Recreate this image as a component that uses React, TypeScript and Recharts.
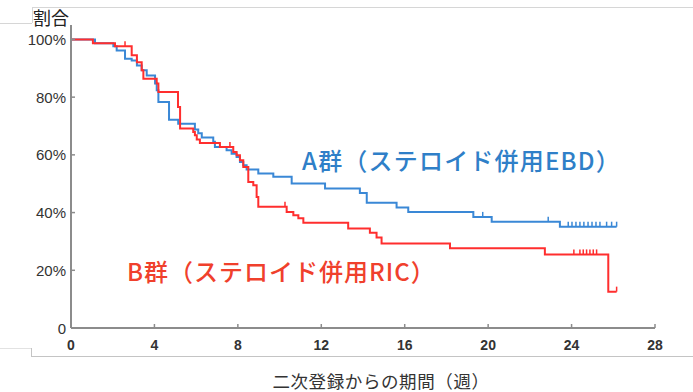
import React from 'react';
import { ComposedChart, Line, XAxis, YAxis } from 'recharts';

const weekTicks = [0, 4, 8, 12, 16, 20, 24, 28];
const percentTicks = [0, 20, 40, 60, 80, 100];

// A群（ステロイド併用EBD）: times (weeks) where the curve drops, and the value after the drop (%)
const groupATimes = [0, 1.15, 2.03, 2.19, 2.59, 2.91, 3.16, 3.39, 3.63, 4.03, 4.11, 4.19, 4.7, 5.14, 5.94, 6.1, 6.27, 6.82, 6.9, 7.46, 7.7, 7.94, 8.1, 8.26, 8.42, 8.98, 9.7, 10.58, 12.18, 13.85, 14.18, 15.61, 16.17, 19.29, 20.17, 23.44];
const groupAValues = [100, 98.7, 97.6, 96.2, 93.3, 92.7, 91.0, 89.3, 87.5, 84.7, 82.4, 78.3, 72.2, 70.8, 68.8, 67.5, 66.0, 64.5, 62.7, 61.6, 60.4, 59.3, 57.5, 56.4, 54.9, 53.5, 52.4, 50.1, 48.3, 46.8, 43.4, 41.8, 40.2, 38.5, 36.8, 35.1];
const groupACensored = [19.74, 22.88, 23.84, 24.02, 24.21, 24.4, 24.59, 24.79, 24.98, 25.17, 25.36, 25.68, 25.92, 26.16];

// B群（ステロイド併用RIC）
const groupBTimes = [0, 1.05, 2.11, 2.91, 3.16, 3.39, 3.47, 4.11, 4.19, 5.13, 5.23, 5.86, 5.94, 6.03, 6.18, 7.14, 7.78, 7.94, 8.1, 8.26, 8.5, 8.74, 8.9, 8.98, 10.34, 10.66, 10.9, 11.14, 13.29, 14.33, 14.65, 14.89, 18.17, 22.72, 25.76];
const groupBValues = [100, 98.7, 97.6, 94.5, 92.1, 89.3, 86.4, 84.7, 81.8, 76.6, 69.1, 67.9, 66.8, 65.3, 64.1, 62.7, 61.0, 59.9, 58.1, 55.8, 50.6, 49.5, 45.4, 42.0, 40.2, 39.1, 38.0, 36.5, 34.5, 33.0, 31.4, 29.3, 27.6, 25.5, 12.6];
const groupBCensored = [2.59, 7.62, 10.26, 24.11, 24.4, 24.56, 24.72, 24.88, 25.04, 25.2, 26.16];

const BLUE = '#3a88d6';
const RED = '#ff2e2e';
const AXIS = '#8c8c8c';

type Row = { t: number; v: number; c: boolean };

// merge drops and censor marks into one table; a censor keeps the current step value
const buildRows = (times: number[], values: number[], censored: number[]): Row[] => {
  const rows: Row[] = times.map((t, i) => ({ t, v: values[i], c: false }));
  censored.forEach((t) => {
    let v = values[0];
    times.forEach((tt, i) => {
      if (tt <= t) v = values[i];
    });
    rows.push({ t, v, c: true });
  });
  return rows.sort((a, b) => a.t - b.t);
};

const rowsA = buildRows(groupATimes, groupAValues, groupACensored);
const rowsB = buildRows(groupBTimes, groupBValues, groupBCensored);

const censorDot = (color: string) => (props: any) => {
  const { cx, cy, payload, index } = props;
  if (!payload || !payload.c) return <g key={`n-${index}`} />;
  return <line key={`c-${index}`} x1={cx} x2={cx} y1={cy} y2={cy - 5} stroke={color} strokeWidth={1.5} />;
};

const XTick = (props: any) => {
  const { x, y, payload } = props;
  return (
    <g>
      <line x1={x} x2={x} y1={y - 17} y2={y - 21} stroke={AXIS} strokeWidth={1.5} />
      <text x={x} y={y} textAnchor="middle" dominantBaseline="central" fontSize={14} fontWeight="bold" fill="#333" fontFamily="'Liberation Sans', Arial, sans-serif">
        {payload.value}
      </text>
    </g>
  );
};

const YTick = (props: any) => {
  const { x, y, payload } = props;
  return (
    <g>
      <line x1={x + 5} x2={x + 9} y1={y} y2={y} stroke={AXIS} strokeWidth={1.5} />
      <text x={x} y={y} textAnchor="end" dominantBaseline="central" fontSize={15} fill="#333" fontFamily="'Liberation Sans', Arial, sans-serif">
        {payload.value === 0 ? '0' : `${payload.value}%`}
      </text>
    </g>
  );
};

const jp = "'Noto Sans CJK JP', 'Noto Sans', sans-serif";

const App: React.FC = () => {
  return (
    <div style={{ position: 'absolute', left: 0, top: 0, width: 693, height: 392, background: '#fff', overflow: 'hidden' }}>
      {/* faint frame left over from the cropped slide */}
      <div style={{ position: 'absolute', left: 32, top: 7, width: 661, height: 1, background: '#d6d6d6' }} />
      <div style={{ position: 'absolute', left: 32, top: 7, width: 1, height: 16, background: '#d6d6d6' }} />
      <div style={{ position: 'absolute', left: 0, top: 23, width: 32, height: 1, background: '#d6d6d6' }} />
      <div style={{ position: 'absolute', left: 0, top: 348, width: 31, height: 1, background: '#e2e2e2' }} />
      <div style={{ position: 'absolute', left: 31, top: 348, width: 1, height: 8, background: '#c4c4c4' }} />
      <div style={{ position: 'absolute', left: 31, top: 356, width: 662, height: 1, background: '#c4c4c4' }} />

      <ComposedChart width={693} height={392} data={rowsA} margin={{ top: 25, right: 38, bottom: 34, left: 21 }}>
        <XAxis
          dataKey="t"
          type="number"
          domain={[0, 28]}
          ticks={weekTicks}
          interval={0}
          allowDataOverflow
          axisLine={{ stroke: AXIS, strokeWidth: 2 }}
          tickLine={false}
          tickSize={0}
          tickMargin={17}
          height={30}
          tick={<XTick />}
        />
        <YAxis
          type="number"
          domain={[0, 105]}
          ticks={percentTicks}
          interval={0}
          axisLine={{ stroke: AXIS, strokeWidth: 2 }}
          tickLine={false}
          tickSize={0}
          tickMargin={5}
          width={50}
          tick={<YTick />}
        />
        <Line data={rowsA} dataKey="v" type="stepAfter" stroke={BLUE} strokeWidth={2} dot={censorDot(BLUE)} activeDot={false} isAnimationActive={false} />
        <Line data={rowsB} dataKey="v" type="stepAfter" stroke={RED} strokeWidth={2} dot={censorDot(RED)} activeDot={false} isAnimationActive={false} />
      </ComposedChart>

      <div style={{ position: 'absolute', left: 33, top: 5, fontSize: 18, fontFamily: jp, color: '#222', lineHeight: '24px' }}>割合</div>
      <div style={{ position: 'absolute', left: 302, top: 144, fontSize: 24, fontWeight: 500, letterSpacing: 1.2, fontFamily: jp, color: '#2f7fc8', lineHeight: '32px', whiteSpace: 'nowrap' }}>
        A群（ステロイド併用EBD）
      </div>
      <div style={{ position: 'absolute', left: 127, top: 255, fontSize: 24, fontWeight: 500, letterSpacing: 1.0, fontFamily: jp, color: '#f0402c', lineHeight: '32px', whiteSpace: 'nowrap' }}>
        B群（ステロイド併用RIC）
      </div>
      <div style={{ position: 'absolute', left: 381, top: 372, transform: 'translateX(-50%)', fontSize: 17.5, letterSpacing: 0.6, fontFamily: jp, color: '#333', lineHeight: '18px', whiteSpace: 'nowrap' }}>
        二次登録からの期間（週）
      </div>
    </div>
  );
};

export default App;
